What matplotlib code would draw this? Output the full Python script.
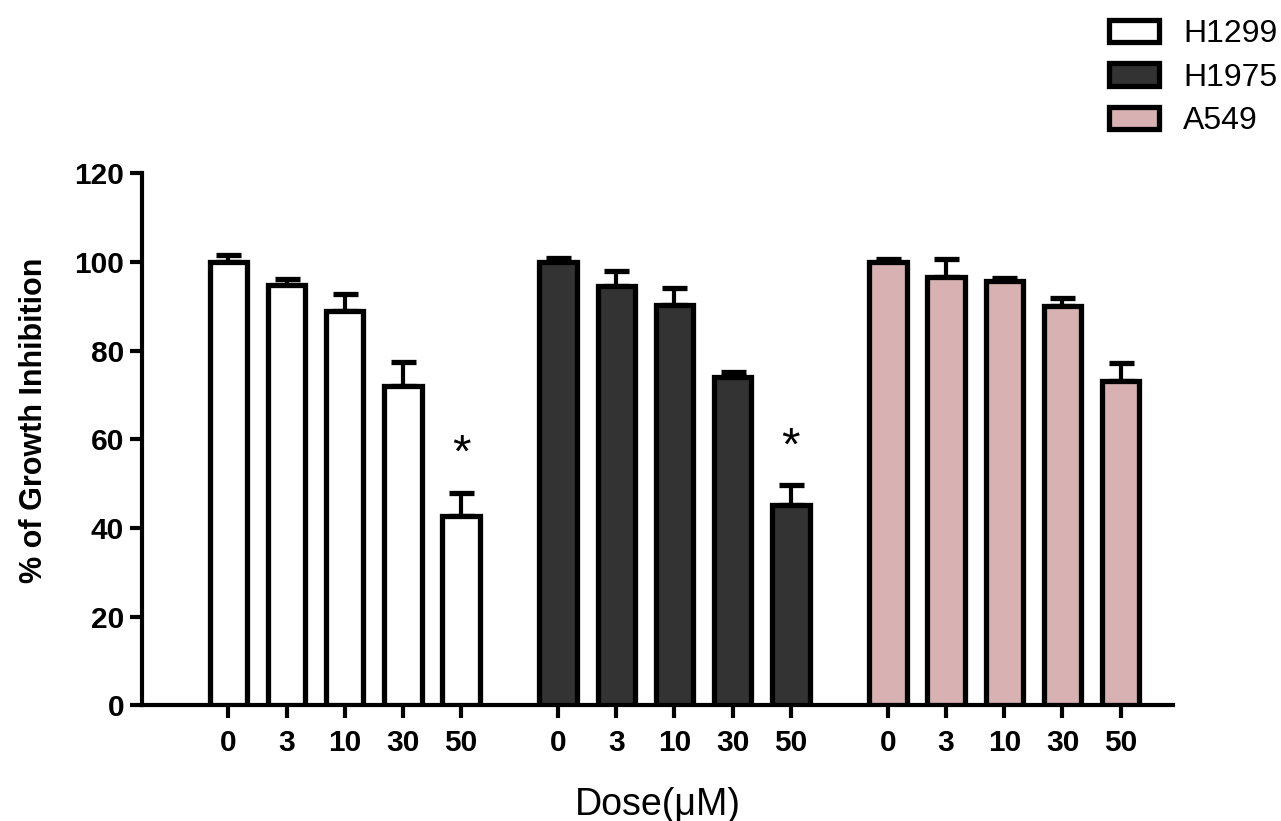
import matplotlib
matplotlib.use('Agg')
import matplotlib.pyplot as plt
import numpy as np

plt.rcParams['font.family'] = ['Liberation Sans', 'DejaVu Sans']

# data
doses = ['0', '3', '10', '30', '50']
cell_lines = ['H1299', 'H1975', 'A549']
h1299 = [100.0, 94.7, 89.0, 72.0, 42.6]
h1299_err = [1.6, 1.5, 3.8, 5.5, 5.3]
h1975 = [100.0, 94.5, 90.2, 74.0, 45.1]
h1975_err = [0.8, 3.5, 3.8, 1.2, 4.6]
a549 = [100.0, 96.5, 95.7, 90.0, 73.2]
a549_err = [0.6, 4.2, 0.7, 1.9, 4.0]
colors = ['#ffffff', '#333333', '#d8b2b2']
signif = [[4], [4], []]  # index of doses marked with *

values = [h1299, h1975, a549]
errors = [h1299_err, h1975_err, a549_err]

fig = plt.figure(figsize=(12.81, 8.21), dpi=100)
ax = fig.add_axes([0.111, 0.141, 0.805, 0.648])

group_step = 5.667
width = 0.64
lw = 3.8

for g, (vals, errs) in enumerate(zip(values, errors)):
    x = np.arange(len(doses)) + g * group_step
    ax.bar(x, vals, width=width, color=colors[g], edgecolor='black',
           linewidth=lw, label=cell_lines[g], zorder=3)
    ax.errorbar(x, vals, yerr=[np.zeros(len(errs)), errs], fmt='none',
                ecolor='black', elinewidth=3, capsize=9, capthick=3.8, zorder=2)
    for i in signif[g]:
        ax.text(x[i], vals[i] + errs[i] + 8.5, '*', ha='center', va='center',
                fontsize=34)

ticks = np.concatenate([np.arange(len(doses)) + g * group_step for g in range(3)])
ax.set_xticks(ticks)
ax.set_xticklabels(doses * 3, fontsize=21.5, fontweight='bold')
ax.set_xlim(-1.48, 16.24)
ax.set_ylim(0, 120)
ax.set_yticks(np.arange(0, 121, 20))
ax.tick_params(axis='y', labelsize=21.5, width=3, length=9, direction='out', pad=4)
ax.tick_params(axis='x', width=3, length=9, direction='out', pad=8)
for lab in ax.get_yticklabels():
    lab.set_fontweight('bold')

for side in ['top', 'right']:
    ax.spines[side].set_visible(False)
for side in ['left', 'bottom']:
    ax.spines[side].set_linewidth(3)

ax.set_xlabel('Dose(μM)', fontsize=27, labelpad=22)
ax.set_ylabel('% of Growth Inhibition', fontsize=22, fontweight='bold')
ax.yaxis.set_label_coords(-0.09, 0.535)

leg = fig.legend(loc='upper right', bbox_to_anchor=(1.012, 1.0), frameon=False,
                 fontsize=23, handlelength=1.55, handleheight=0.7,
                 labelspacing=0.42, handletextpad=0.75, borderaxespad=0.2)

plt.savefig('out.png', dpi=100)
